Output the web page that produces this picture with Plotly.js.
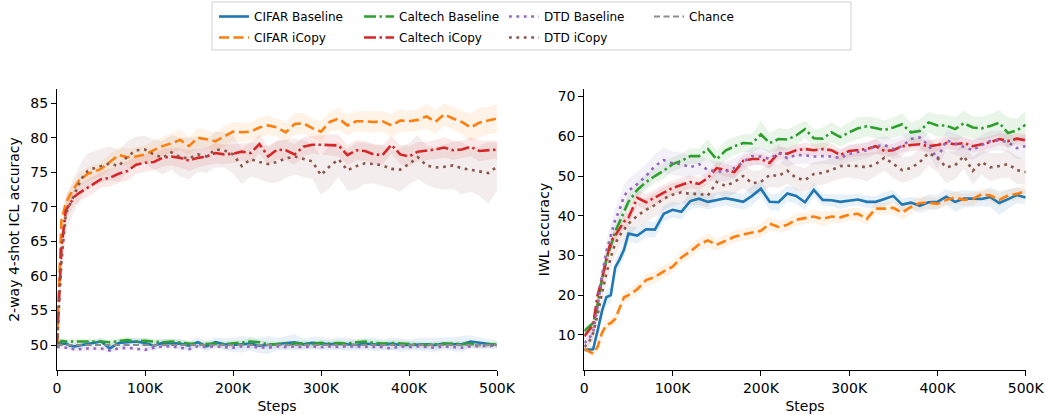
<!DOCTYPE html>
<html><head><meta charset="utf-8">
<script src="https://cdn.plot.ly/plotly-3.0.1.min.js"></script>
<style>html,body{margin:0;padding:0;background:#fff}#chart{width:1045px;height:415px}</style>
</head><body><div id="chart"></div>
<script>
const steps = [0,5000,10000,15000,20000,25000,30000,35000,40000,45000,50000,
 60000,70000,80000,90000,100000,110000,120000,130000,140000,150000,
 160000,170000,180000,190000,200000,210000,220000,230000,240000,250000,
 260000,270000,280000,290000,300000,310000,320000,330000,340000,350000,
 360000,370000,380000,390000,400000,410000,420000,430000,440000,450000,
 460000,470000,480000,490000,500000];

const xTickVals = [0,100000,200000,300000,400000,500000];
const xTickText = ['0','100K','200K','300K','400K','500K'];
const iclTicks = [50,55,60,65,70,75,80,85];
const iwlTicks = [10,20,30,40,50,60,70];
const chanceLevel = 50;

// ---- 2-way 4-shot ICL accuracy (left) ----
const iclCifarBase = [50,50.2,50.2,49.9,49.8,49.9,50,50.1,50.2,50.3,50.5,
 49.5,50.3,50.4,50.5,50.3,49.9,50.3,50.3,50.2,49.9,
 50.4,49.8,50.4,50.1,50,50.1,50.2,49.9,50,50.1,
 50.3,50.4,50.1,50.3,50.2,50.1,50.2,50.1,50,50.2,
 50.1,50,50.2,50,50,50.1,50.1,50,50.2,50.1,
 50.1,50.5,50.3,50.1,50];
const iclCifarCopy = [50,68,70.5,71.8,72.8,73.8,74.3,74.8,75,75.2,75.5,
 76.5,77.5,77.2,77.3,77.6,78.2,78.8,79.2,79.7,78.8,
 80.0,79.8,79.5,80.2,80.9,80.8,80.9,81.5,81.8,81.5,
 80.8,82.0,82.1,81.4,80.9,82.3,82.8,81.8,82.4,82.4,
 82.3,82.4,81.8,82.5,82.4,82.6,83.1,82.3,83.4,82.8,
 82.3,81.5,82.2,82.5,82.8];
const iclCaltechBase = [50,50.6,50.5,50.5,50.6,50.5,50.5,50.5,50.6,50.5,50.5,
 50.4,50.5,50.7,50.5,50.6,50.5,50.4,50.5,50.3,50.2,
 50.1,50.2,50.2,50.1,50.2,50.3,50.5,50.4,50.1,50.1,
 50.2,50.2,50.2,50.1,50.3,50.2,50.3,50.2,50.4,50.5,
 50.3,50.2,50.3,50.2,50.2,50.1,50,50.1,50.2,50.2,
 50.1,50.2,50,50,50.1];
const iclCaltechCopy = [50,64,69.5,70.5,71.5,72,72.4,72.8,73.1,73.5,74,
 74.2,74.8,75.2,76.1,76.4,76.5,77.1,77.3,77.1,76.7,
 77.1,77.3,77.8,77.6,77.7,78.0,77.8,79.1,77.3,78.3,
 78.2,77.6,78.7,79.0,79.0,79.0,78.9,77.5,78.2,78.1,
 77.6,77.5,79.0,77.6,77.3,78.0,78.1,78.3,78.6,78.2,
 78.3,78.7,78.1,78.2,78.3];
const iclDtdBase = [49.7,49.6,49.6,49.6,49.3,49.4,49.5,49.5,49.5,49.5,49.5,
 49.2,49.5,49.6,49.5,49.3,49.6,49.8,49.8,49.6,49.4,
 49.8,49.7,49.8,49.7,49.6,49.8,49.7,49.7,49.6,49.8,
 49.7,49.8,49.7,49.8,49.7,49.8,49.7,49.8,49.8,49.7,
 49.8,49.7,49.5,49.8,49.7,49.8,49.7,49.6,49.8,49.7,
 49.6,49.8,49.8,49.8,49.9];
const iclDtdCopy = [50,62,69,70.5,72,73.3,74.5,75.2,75.5,75.7,76,
 76.3,75.9,77.3,78.2,78.3,77.6,77.1,77.9,77.2,77.0,
 77.6,77.3,78.3,78.2,77.6,75.9,76.9,76.5,76.2,76.5,
 77.0,77.3,77.0,76.6,74.6,75.9,76.9,75.3,75.9,76.3,
 76.2,76.0,75.5,75.4,76.2,77.2,76.0,75.7,75.8,76.0,
 75.6,75.4,75.2,74.9,75.8];

// spreads (half-width of shaded band)
const iclCifarBaseSd = [0,0.4,0.5,0.5,0.5,0.5,0.5,0.5,0.5,0.5,0.6,
 0.6,0.6,0.6,0.6,0.7,0.7,0.6,0.6,0.7,0.6,
 0.7,0.8,0.7,0.9,1.0,1.2,1.0,1.1,1.3,0.9,
 1.0,1.2,0.8,0.9,1.0,0.8,0.9,1.0,0.8,0.9,
 1.0,0.8,0.9,1.0,0.8,0.9,1.0,1.1,0.9,1.0,
 1.2,0.9,0.8,0.7,0.6];
const iclCifarCopySd = [0,1.5,1.2,1,1,1,1,1,1,1,1.1,
 1.2,1.2,1.2,1.3,1.3,1.4,1.3,1.4,1.5,1.3,
 1.4,1.3,1.3,1.5,1.4,1.4,1.3,1.5,1.4,1.3,
 1.4,1.6,1.5,1.4,1.5,1.4,1.6,1.5,1.4,1.5,
 1.6,1.5,1.6,1.7,1.5,1.6,1.8,1.7,1.6,1.7,
 1.8,2.0,2.2,2.0,2.1];
const iclCaltechBaseSd = [0,0.4,0.4,0.4,0.4,0.4,0.4,0.4,0.4,0.4,0.4,
 0.4,0.4,0.5,0.4,0.4,0.4,0.4,0.4,0.4,0.4,
 0.4,0.4,0.4,0.4,0.4,0.4,0.5,0.4,0.4,0.4,
 0.4,0.4,0.4,0.4,0.4,0.4,0.4,0.4,0.4,0.4,
 0.4,0.4,0.4,0.4,0.4,0.4,0.4,0.4,0.4,0.4,
 0.4,0.4,0.4,0.4,0.4];
const iclCaltechCopySd = [0,2,1.5,1.2,1.2,1.2,1.2,1.2,1.2,1.2,1.2,
 1.3,1.3,1.4,1.3,1.3,1.2,1.3,1.3,1.4,1.5,
 1.4,1.3,1.5,1.4,1.4,1.3,1.5,1.4,1.3,1.4,
 1.4,1.5,1.4,1.3,1.4,1.5,1.6,1.4,1.5,1.4,
 1.5,1.4,1.3,1.4,1.5,1.4,1.3,1.4,1.5,1.4,
 1.3,1.4,1.5,1.4,1.3];
const iclDtdBaseSd = [0,0.3,0.3,0.3,0.3,0.3,0.3,0.3,0.3,0.3,0.3,
 0.3,0.3,0.3,0.3,0.3,0.3,0.3,0.3,0.3,0.3,
 0.3,0.3,0.3,0.3,0.3,0.3,0.3,0.3,0.3,0.3,
 0.3,0.3,0.3,0.3,0.3,0.3,0.3,0.3,0.3,0.3,
 0.3,0.3,0.3,0.3,0.3,0.3,0.3,0.3,0.3,0.3,
 0.3,0.3,0.3,0.3,0.3];
const iclDtdCopySd = [0,3,2.5,2.5,2.5,2.5,2.5,2.5,2.5,2.5,2.5,
 2.5,2.3,2.2,2.0,2.0,2.2,2.4,2.5,2.8,3.0,
 2.5,2.4,2.6,2.5,2.8,2.6,2.5,2.5,2.7,3.0,
 2.8,2.6,2.7,2.5,2.8,3.2,2.5,3.0,3.4,3.0,
 2.8,3.0,2.8,3.2,3.0,3.2,2.8,3.0,3.3,3.4,
 3.8,3.2,3.6,4.5,3.5];

// ---- IWL accuracy (right) ----
const iwlCifarBase = [6.2,6.3,6.4,11,16,19.5,20,27,29,31.5,35.5,
 35,36.6,36.5,40.5,41.5,41,43.7,44.3,43.5,44,
 44.4,44,43.5,45,46.8,43.5,43.4,45.6,45,43.4,
 46.5,44,43.9,43.5,43.8,44.1,43.5,43.5,44.2,45,
 42.8,43.3,42.5,43.4,43.5,44.8,43.5,44.3,44.3,44.2,
 44.7,43.2,44.2,45.2,44.6];
const iwlCifarCopy = [6.5,6.0,5.3,7,10.5,12.5,13,14,17,19.5,20,
 21.5,23.8,24.6,26,27.2,29.5,31,32.8,33.8,32.7,
 33.7,34.7,35.3,35.7,36.2,38.0,37.2,37.7,39.0,39.4,
 39.8,39.2,39.8,39.6,40.3,40.5,39.2,41.8,41.8,42,
 40.8,42.2,43.2,43.3,43.0,44,44.6,44.0,44.2,45.4,
 45.1,44.0,45.1,45.5,46.2];
const iwlCaltechBase = [11,12,13,17.5,24,29,32.5,36,38.5,41,43.5,
 46.5,48.5,50,51.3,53,53.8,55,55,56.8,54.2,
 56.4,57.5,58.3,58.2,60.5,58.3,59.3,59.2,60.2,61.8,
 59.5,59.4,61,59.8,61,62,62.5,62.1,61.6,62.2,
 63.0,61.0,61.3,63.5,62.7,62.7,61.8,63.3,62.2,62.0,
 62.6,63.4,60.8,61.5,62.9];
const iwlCaltechCopy = [9.7,11,12.5,20,24,29,33.5,35,36.8,38.5,39.5,
 44.5,43.4,44.7,45.8,47,47.8,48.5,48,49.5,52,
 51.5,51,53.8,54.3,54.3,53.3,55.8,55.6,56.5,56.8,
 56.5,56.8,56.5,55.3,56.3,56.5,56.8,57.5,56.3,56.5,
 57.5,57.8,58,57.5,57.8,58.3,58,58.3,57.5,58,
 58.5,59.3,58.8,59.4,59.0];
const iwlDtdBase = [8,9,10.6,17,25,31,35,39,41.5,45,46.3,
 48,50,52.5,54,53.2,53,52.2,53,51.5,51.2,
 51.1,52,53.5,55,54.9,54.3,55.8,54.5,55.3,55.2,
 54.9,55,54.9,54.5,55.6,56.1,56.5,57.5,57.8,56.8,
 57.5,59.3,59.7,57.7,54.3,59,58.1,57.2,56.5,57.8,
 58.8,59,58.5,57,57.5];
const iwlDtdCopy = [7,8,10.5,15,20.5,25.5,29.5,33,35,36.5,38,
 40,41.5,42.7,44.3,45.3,45.9,45.5,45.5,45.1,48.5,
 47.5,48.5,50,48.2,48.5,50.3,50,51.3,49.5,49,
 50.5,50.8,51.5,52.5,52.6,52.5,52.2,53,54.6,53,
 51.5,52,53.5,55.8,54.5,52.2,52.7,55,51.3,53.5,
 52.2,52.5,53,51.5,51];

const iwlCifarBaseSd = [0.5,0.6,0.8,1.5,2,2,2,2,2,2,2,
 2,2,2,2,2,2,2,2.2,2,1.8,
 1.8,2,2,2.5,2,2,2.2,2,2,2,
 1.8,1.5,1.5,1.8,1.5,1.5,1.6,1.5,1.8,1.5,
 1.6,1.5,1.8,2,1.8,2,2.5,2.2,2,1.8,
 2.5,3,2.5,2,1.8];
const iwlCifarCopySd = [0.5,0.6,0.8,1,1.2,1.2,1.3,1.3,1.3,1.4,1.4,
 1.5,1.5,1.5,1.5,1.5,1.5,1.5,1.5,1.8,1.5,
 1.5,1.5,1.5,1.5,1.6,1.8,1.5,1.5,1.6,1.5,
 1.6,1.8,1.6,1.5,1.5,1.6,1.5,1.5,1.4,1.5,
 1.8,1.5,1.6,1.5,1.5,1.5,1.6,1.5,1.6,1.5,
 1.5,1.6,1.5,1.6,1.5];
const iwlCaltechBaseSd = [0.8,1,1,1.5,2,2,2,2,2,2,2,
 2,2,1.8,2,1.8,1.8,2,2,2.5,2.2,
 2.5,2.3,2.2,2.4,3.5,2.5,2.8,2.6,2.5,2.2,
 2.3,2.8,2.5,2.4,2.5,2.8,2.5,2.6,2.4,2.5,
 2.8,2.5,3,2.6,2.8,2.7,3,3.2,2.8,3,
 3,3.2,4,3,3.5];
const iwlCaltechCopySd = [0.8,1,1,1.5,2,2,2,2,2,2,2,
 2,2,2,2,1.8,1.8,1.6,1.6,1.5,1.5,
 1.6,1.6,1.5,1.6,1.5,1.5,1.6,1.5,1.5,1.6,
 1.5,1.6,1.6,1.5,1.6,1.5,1.6,1.8,1.6,1.5,
 1.6,1.5,1.6,1.5,1.6,1.5,1.6,1.5,1.6,1.5,
 1.6,1.5,1.6,1.5,1.6];
const iwlDtdBaseSd = [1,1.5,2,2,2.5,2.5,3,3,3,3,3,
 3,3,3,3.2,3,3,2.8,2.5,2.5,2.5,
 2.5,2.5,2.2,2.2,2.2,2.2,2.2,2.2,2.2,2.2,
 2,2,2,2,2,2.2,2,2,2.2,2.5,
 2.5,2.2,2.5,2.4,2.5,2.5,2.8,2.5,2.5,2.5,
 2.5,2.5,2.6,2.8,3];
const iwlDtdCopySd = [1,1.5,2,2,2.5,2.5,3,3,3,3,3,
 3,3,3,3,2.8,2.8,2.8,2.8,3,3,
 3,3,3,3,3,3,3,3.2,3,3,
 3,3,3,3.2,3,3.2,3.5,3,3.2,3.5,
 3.2,3,3.5,3.2,3.5,4,3.5,3.2,3.5,3.2,
 3.5,3.2,3.4,3.5,3.2];

const DASHED = '10px,4.5px';
const DASHDOT = '12px,3.5px,2.5px,3.5px';
const DOTTED = '2.8px,4.6px';

const series = [
  {name:'CIFAR Baseline', rgb:[31,119,180], dash:'solid', legend:'legend',
   icl:iclCifarBase, iclSd:iclCifarBaseSd, iwl:iwlCifarBase, iwlSd:iwlCifarBaseSd},
  {name:'CIFAR iCopy', rgb:[255,127,14], dash:DASHED, legend:'legend2',
   icl:iclCifarCopy, iclSd:iclCifarCopySd, iwl:iwlCifarCopy, iwlSd:iwlCifarCopySd},
  {name:'Caltech Baseline', rgb:[44,160,44], dash:DASHDOT, legend:'legend',
   icl:iclCaltechBase, iclSd:iclCaltechBaseSd, iwl:iwlCaltechBase, iwlSd:iwlCaltechBaseSd},
  {name:'Caltech iCopy', rgb:[214,39,40], dash:DASHDOT, legend:'legend2',
   icl:iclCaltechCopy, iclSd:iclCaltechCopySd, iwl:iwlCaltechCopy, iwlSd:iwlCaltechCopySd},
  {name:'DTD Baseline', rgb:[148,103,189], dash:DOTTED, legend:'legend',
   icl:iclDtdBase, iclSd:iclDtdBaseSd, iwl:iwlDtdBase, iwlSd:iwlDtdBaseSd},
  {name:'DTD iCopy', rgb:[140,86,75], dash:DOTTED, legend:'legend2',
   icl:iclDtdCopy, iclSd:iclDtdCopySd, iwl:iwlDtdCopy, iwlSd:iwlDtdCopySd}
];

function rgba(c, a){ return 'rgba(' + c[0] + ',' + c[1] + ',' + c[2] + ',' + a + ')'; }
function band(mean, sd, c, xa, ya){
  const up = mean.map((v,i) => v + sd[i]);
  const lo = mean.map((v,i) => v - sd[i]);
  return {x: steps.concat(steps.slice().reverse()), y: up.concat(lo.slice().reverse()),
    type:'scatter', mode:'lines', fill:'toself', fillcolor: rgba(c, 0.1),
    line:{width:0, color:rgba(c,0)}, hoverinfo:'skip', showlegend:false, xaxis:xa, yaxis:ya};
}

const traces = [];
series.forEach(s => {
  traces.push(band(s.icl, s.iclSd, s.rgb, 'x', 'y'));
  traces.push(band(s.iwl, s.iwlSd, s.rgb, 'x2', 'y2'));
});
series.forEach(s => {
  traces.push({x: steps, y: s.icl, type:'scatter', mode:'lines', name: s.name,
    line:{color: rgba(s.rgb,1), width:2.6, dash:s.dash}, legend: s.legend, xaxis:'x', yaxis:'y'});
});
traces.push({x:[steps[0], steps[steps.length-1]], y:[chanceLevel, chanceLevel], type:'scatter', mode:'lines',
  name:'Chance', line:{color:'#8c8c8c', width:1.8, dash:'6px,3.5px'}, legend:'legend', xaxis:'x', yaxis:'y'});
series.forEach(s => {
  traces.push({x: steps, y: s.iwl, type:'scatter', mode:'lines', name: s.name, showlegend:false,
    line:{color: rgba(s.rgb,1), width:2.6, dash:s.dash}, xaxis:'x2', yaxis:'y2'});
});

const axisCommon = {ticks:'outside', ticklen:5, tickwidth:1, tickcolor:'#000', showline:true,
  linecolor:'#000', linewidth:1, showgrid:false, zeroline:false, tickfont:{size:14, color:'#000'}};
const yDom = [45/415, 326/415];
const legendCommon = {orientation:'h', xanchor:'left', yanchor:'top', font:{size:12, color:'#000'},
  bgcolor:'rgba(0,0,0,0)', borderwidth:0, entrywidth:100, traceorder:'normal'};

const layout = {
  width:1045, height:415, margin:{l:0, r:0, t:0, b:0},
  paper_bgcolor:'#fff', plot_bgcolor:'#fff',
  font:{family:'DejaVu Sans', size:14, color:'#000'},
  showlegend:true,
  xaxis:Object.assign({}, axisCommon, {domain:[57/1045, 497/1045], range:[0,500000], anchor:'y',
    tickvals:xTickVals, ticktext:xTickText, title:{text:'Steps', standoff:6, font:{size:14}}}),
  yaxis:Object.assign({}, axisCommon, {domain:yDom, range:[46.38, 87.07], anchor:'x',
    tickvals:iclTicks, title:{text:'2-way 4-shot ICL accuracy', standoff:7, font:{size:14}}}),
  xaxis2:Object.assign({}, axisCommon, {domain:[584.3/1045, 1025.7/1045], range:[0,500000], anchor:'y2',
    tickvals:xTickVals, ticktext:xTickText, title:{text:'Steps', standoff:6, font:{size:14}}}),
  yaxis2:Object.assign({}, axisCommon, {domain:yDom, range:[1.18, 71.9], anchor:'x2',
    tickvals:iwlTicks, title:{text:'IWL accuracy', standoff:4, font:{size:14}}}),
  legend:Object.assign({}, legendCommon, {x:214/1045, y:1 - 2/415}),
  legend2:Object.assign({}, legendCommon, {x:214/1045, y:1 - 23/415}),
  shapes:[{type:'rect', xref:'paper', yref:'paper', x0:212/1045, x1:851/1045, y0:1 - 50/415, y1:1 - 2/415,
    line:{color:'rgba(0,0,0,0.18)', width:1}, fillcolor:'rgba(0,0,0,0)', layer:'below'}]
};

Plotly.newPlot('chart', traces, layout, {displayModeBar:false, staticPlot:true});
</script></body></html>
